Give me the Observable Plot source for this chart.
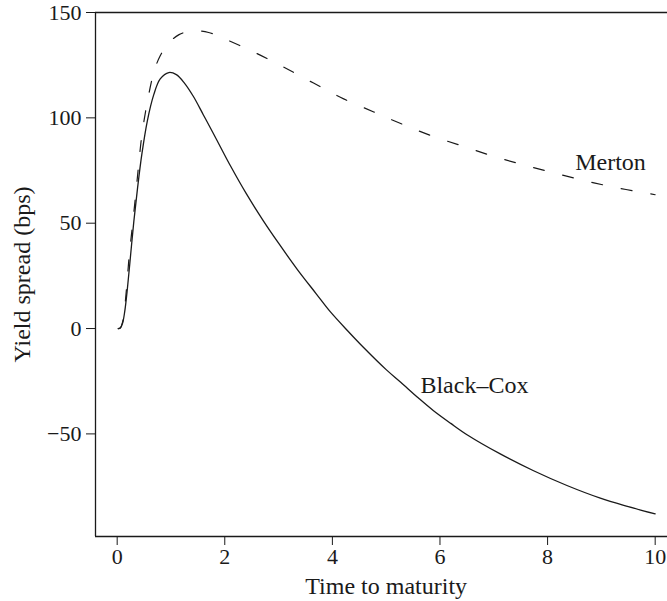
<!DOCTYPE html>
<html>
<head>
<meta charset="utf-8">
<script src="https://cdn.jsdelivr.net/npm/d3@7"></script>
<script src="https://cdn.jsdelivr.net/npm/@observablehq/plot@0.6"></script>
<style>
  html, body { margin: 0; padding: 0; background: #fff; }
</style>
</head>
<body>
<div id="chart"></div>
<script>
// Time to maturity (years) and yield spreads (bps)
const blackCoxT = [0.02, 0.06, 0.1, 0.14, 0.19, 0.25, 0.31, 0.38, 0.46, 0.56, 0.68, 0.8, 0.96, 1.1, 1.25, 1.42, 1.6, 1.8, 2.11, 2.4, 2.72, 3.0, 3.35, 3.7, 3.96, 4.3, 4.58, 5.0, 5.27, 5.6, 5.88, 6.2, 6.51, 7.12, 7.74, 8.36, 8.98, 9.5, 10];
const blackCoxV = [0, 0.3, 2.5, 8, 19, 35, 51, 67, 83, 98.5, 111, 118.5, 121.5, 120.5, 116.5, 110, 101.5, 92, 77, 64, 51, 40.5, 28, 16.5, 8, -1.5, -9, -19.5, -25.5, -33, -39, -45, -50.5, -59.5, -67.5, -74.5, -80.5, -84.5, -88];

const mertonT = [0.02, 0.06, 0.1, 0.14, 0.18, 0.22, 0.28, 0.34, 0.40, 0.46, 0.56, 0.68, 0.8, 0.96, 1.15, 1.4, 1.7, 2.04, 2.6, 3.1, 3.65, 4.21, 4.77, 5.27, 5.82, 6.38, 6.94, 7.5, 8.05, 8.64, 9.23, 9.85, 10];
const mertonV = [0, 0.4, 3, 10, 21, 33.5, 48, 62.5, 78, 92, 107.5, 121.5, 129.5, 135.5, 139.5, 141.3, 140.5, 137, 130.5, 124, 116.5, 109, 102.8, 97.3, 91.7, 86.9, 82.2, 78, 74.3, 70.5, 67.1, 64.2, 63.5];

const xTicks = [0, 2, 4, 6, 8, 10];
const yTicks = [-50, 0, 50, 100, 150];
const xDomain = [-0.403, 10.229];
const yDomain = [-98.7, 150];

const seriesLabels = ["Merton", "Black–Cox"];
const labelT = [9.17, 6.64];
const labelV = [79, -27];

const xLabel = "Time to maturity";
const yLabel = "Yield spread (bps)";

const blackCox = blackCoxT.map((t, i) => ({t, v: blackCoxV[i]}));
const merton = mertonT.map((t, i) => ({t, v: mertonV[i]}));
const labels = seriesLabels.map((text, i) => ({text, t: labelT[i], v: labelV[i]}));

const ink = "#1a1a1a";
const serif = "Liberation Serif";

const chart = Plot.plot({
  width: 667,
  height: 601,
  marginLeft: 95,
  marginRight: 0,
  marginTop: 12,
  marginBottom: 65,
  style: {fontSize: "22px", color: ink, background: "#fff", overflow: "visible"},
  x: {domain: xDomain, ticks: xTicks, tickSize: 9, tickPadding: 3, label: null},
  y: {domain: yDomain, ticks: yTicks, tickSize: 9, tickPadding: 5, label: null},
  marks: [
    Plot.ruleX([xDomain[0]], {stroke: ink, strokeWidth: 1.3}),
    Plot.ruleY([yDomain[0], yDomain[1]], {stroke: ink, strokeWidth: 1.3}),
    Plot.line(merton, {x: "t", y: "v", stroke: ink, strokeWidth: 1.2, strokeDasharray: "11,19", curve: "catmull-rom"}),
    Plot.line(blackCox, {x: "t", y: "v", stroke: ink, strokeWidth: 1.3, curve: "catmull-rom"}),
    Plot.text(labels, {x: "t", y: "v", text: "text", fill: ink, fontSize: 24, textAnchor: "middle", lineAnchor: "middle"}),
    Plot.text([xLabel], {x: d3.mean(xTicks), frameAnchor: "bottom", dy: 50, fill: ink, fontSize: 24, textAnchor: "middle", lineAnchor: "middle"}),
    Plot.text([yLabel], {frameAnchor: "left", dx: -73, rotate: -90, fill: ink, fontSize: 24, textAnchor: "middle", lineAnchor: "middle"})
  ]
});

// force the serif face on every text element
d3.select(chart).attr("font-family", serif).style("font-family", serif);
d3.select(chart).selectAll("g, text").attr("font-family", serif).style("font-family", serif);

document.getElementById("chart").appendChild(chart);
</script>
</body>
</html>
